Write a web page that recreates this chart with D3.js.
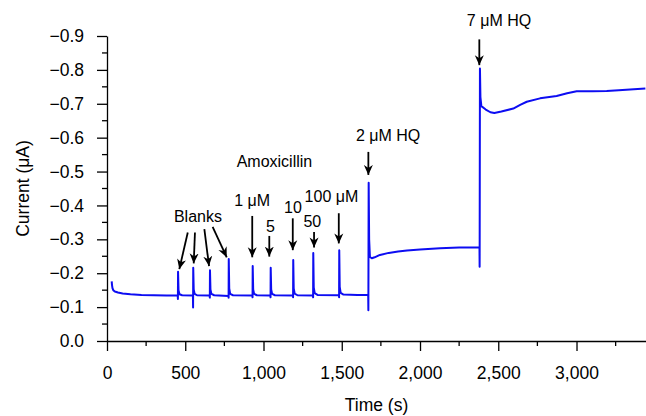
<!DOCTYPE html>
<html>
<head>
<meta charset="utf-8">
<script src="https://cdn.jsdelivr.net/npm/d3@7"></script>
<style>
  html, body { margin: 0; padding: 0; background: #fff; }
  svg { display: block; font-family: "Liberation Sans", Arial, Helvetica, sans-serif; }
</style>
</head>
<body>
<svg id="chart" width="646" height="416"></svg>
<script>
// Amperometric trace: time (s) and current (µA)
const traceTime = [
  30, 32, 35, 40, 50, 70, 100, 150, 220, 300, 380, 452,
  453, 454, 457, 463, 480,
  549, 550, 551, 554, 560, 575,
  656, 657, 658, 661, 667, 685,
  776, 777, 778, 781, 787, 805,
  929, 930, 931, 934, 940, 958,
  1044, 1045, 1046, 1049, 1055, 1073,
  1188, 1189, 1190, 1193, 1199, 1217,
  1316, 1317, 1318, 1321, 1327, 1345,
  1482, 1483, 1484, 1487, 1493, 1511,
  1600, 1669, 1670, 1672, 1675, 1680, 1692, 1710, 1744, 1800, 1860, 1917, 2000, 2128, 2250, 2380,
  2381, 2383, 2386, 2392, 2420, 2450, 2475, 2520, 2596, 2640, 2682, 2767, 2873, 2940, 3001, 3100, 3193, 3270, 3342, 3440
];
const traceCurrent = [
  -0.176, -0.165, -0.156, -0.150, -0.146, -0.143, -0.140, -0.138, -0.136, -0.135, -0.134, -0.134,
  -0.124, -0.204, -0.150, -0.138, -0.135,
  -0.134, -0.099, -0.216, -0.152, -0.139, -0.135,
  -0.134, -0.128, -0.209, -0.152, -0.139, -0.135,
  -0.133, -0.128, -0.242, -0.155, -0.139, -0.135,
  -0.134, -0.129, -0.221, -0.152, -0.139, -0.135,
  -0.134, -0.129, -0.216, -0.152, -0.139, -0.135,
  -0.134, -0.129, -0.239, -0.155, -0.140, -0.135,
  -0.134, -0.129, -0.260, -0.158, -0.141, -0.136,
  -0.135, -0.129, -0.268, -0.160, -0.142, -0.137,
  -0.136, -0.136, -0.091, -0.467, -0.300, -0.248, -0.244, -0.247, -0.254, -0.260, -0.264, -0.267, -0.270, -0.274, -0.276, -0.277,
  -0.219, -0.804, -0.720, -0.693, -0.683, -0.675, -0.673, -0.677, -0.686, -0.697, -0.706, -0.716, -0.723, -0.731, -0.737, -0.737, -0.738, -0.740, -0.742, -0.745
];

// Axis ticks
const xTicks = [0, 500, 1000, 1500, 2000, 2500, 3000];
const xMinorTicks = [250, 750, 1250, 1750, 2250, 2750, 3250];
const yTicks = [0, -0.1, -0.2, -0.3, -0.4, -0.5, -0.6, -0.7, -0.8, -0.9];
const yMinorTicks = [-0.05, -0.15, -0.25, -0.35, -0.45, -0.55, -0.65, -0.75, -0.85];

// Injection annotations: arrows (tail → head) in time / current units
const arrowTailT = [516, 562, 622, 675, 928, 1037, 1187, 1323, 1481, 1670, 2379];
const arrowTailI = [-0.320, -0.320, -0.330, -0.337, -0.369, -0.310, -0.362, -0.322, -0.377, -0.558, -0.890];
const arrowHeadT = [462, 554, 652, 765, 928, 1037, 1187, 1323, 1481, 1670, 2379];
const arrowHeadI = [-0.212, -0.229, -0.221, -0.247, -0.247, -0.249, -0.268, -0.276, -0.288, -0.490, -0.814];

// Annotation texts and their anchor (centre, baseline)
const labelText = ["Amoxicillin", "Blanks", "1 μM", "5", "10", "50", "100 μM", "2 μM HQ", "7 μM HQ"];
const labelT = [1070, 581, 927, 1045, 1188, 1312, 1434, 1796, 2505];
const labelI = [-0.513, -0.350, -0.399, -0.322, -0.377, -0.335, -0.409, -0.591, -0.929];

const svg = d3.select("#chart");
const x = d3.scaleLinear().domain([0, 3444]).range([107, 646]);
const y = d3.scaleLinear().domain([0, -0.9]).range([341, 36]);

const axisFont = "17.5px";
const fmtX = d3.format(",");
const fmtY = d3.format(".1f");

// x axis
const gx = svg.append("g").attr("transform", `translate(0,${y(0)})`);
gx.call(d3.axisBottom(x).tickValues(xTicks).tickFormat(fmtX).tickSize(10).tickSizeOuter(0).tickPadding(16));
gx.append("g").selectAll("line").data(xMinorTicks).join("line")
  .attr("x1", d => x(d)).attr("x2", d => x(d)).attr("y1", 0).attr("y2", 5)
  .attr("stroke", "#000").attr("stroke-width", 1.3);

// y axis
const gy = svg.append("g").attr("transform", `translate(${x(0)},0)`);
gy.call(d3.axisLeft(y).tickValues(yTicks).tickFormat(fmtY).tickSize(10).tickSizeOuter(0).tickPadding(13));
gy.append("g").selectAll("line").data(yMinorTicks).join("line")
  .attr("x1", 0).attr("x2", -5).attr("y1", d => y(d)).attr("y2", d => y(d))
  .attr("stroke", "#000").attr("stroke-width", 1.3);

[gx, gy].forEach(g => {
  g.select(".domain").attr("stroke", "#000").attr("stroke-width", 1.3);
  g.selectAll(".tick line").attr("stroke", "#000").attr("stroke-width", 1.3);
  g.selectAll(".tick text").attr("fill", "#000").style("font-size", axisFont)
    .style("font-family", "Liberation Sans, Arial, sans-serif");
});

// axis titles
svg.append("text")
  .attr("x", (x.range()[0] + x.range()[1]) / 2)
  .attr("y", 411)
  .attr("text-anchor", "middle")
  .style("font-size", axisFont)
  .text("Time (s)");

svg.append("text")
  .attr("transform", `translate(29,${(y.range()[0] + y.range()[1]) / 2}) rotate(-90)`)
  .attr("text-anchor", "middle")
  .style("font-size", axisFont)
  .text("Current (μA)");

// trace
const points = traceTime.map((t, i) => [t, traceCurrent[i]]);
svg.append("path")
  .datum(points)
  .attr("fill", "none")
  .attr("stroke", "#0d0df2")
  .attr("stroke-width", 2)
  .attr("stroke-linejoin", "round")
  .attr("d", d3.line().x(d => x(d[0])).y(d => y(d[1])));

// arrowhead marker
svg.append("defs").append("marker")
  .attr("id", "head")
  .attr("viewBox", "-10 -5 11 10")
  .attr("refX", 0).attr("refY", 0)
  .attr("markerWidth", 11).attr("markerHeight", 10)
  .attr("markerUnits", "userSpaceOnUse")
  .attr("orient", "auto")
  .append("path")
  .attr("d", "M0,0 L-10,-4.5 L-7,0 L-10,4.5 Z")
  .attr("fill", "#000");

const arrows = arrowTailT.map((t, i) => ({
  x1: x(t), y1: y(arrowTailI[i]), x2: x(arrowHeadT[i]), y2: y(arrowHeadI[i])
}));
svg.append("g").selectAll("line").data(arrows).join("line")
  .attr("x1", d => d.x1).attr("y1", d => d.y1)
  .attr("x2", d => d.x2).attr("y2", d => d.y2)
  .attr("stroke", "#000").attr("stroke-width", 1.8)
  .attr("marker-end", "url(#head)");

// annotation labels
svg.append("g").selectAll("text").data(labelText).join("text")
  .attr("x", (d, i) => x(labelT[i]))
  .attr("y", (d, i) => y(labelI[i]))
  .attr("text-anchor", "middle")
  .style("font-size", "16px")
  .attr("fill", "#000")
  .text(d => d);
</script>
</body>
</html>
